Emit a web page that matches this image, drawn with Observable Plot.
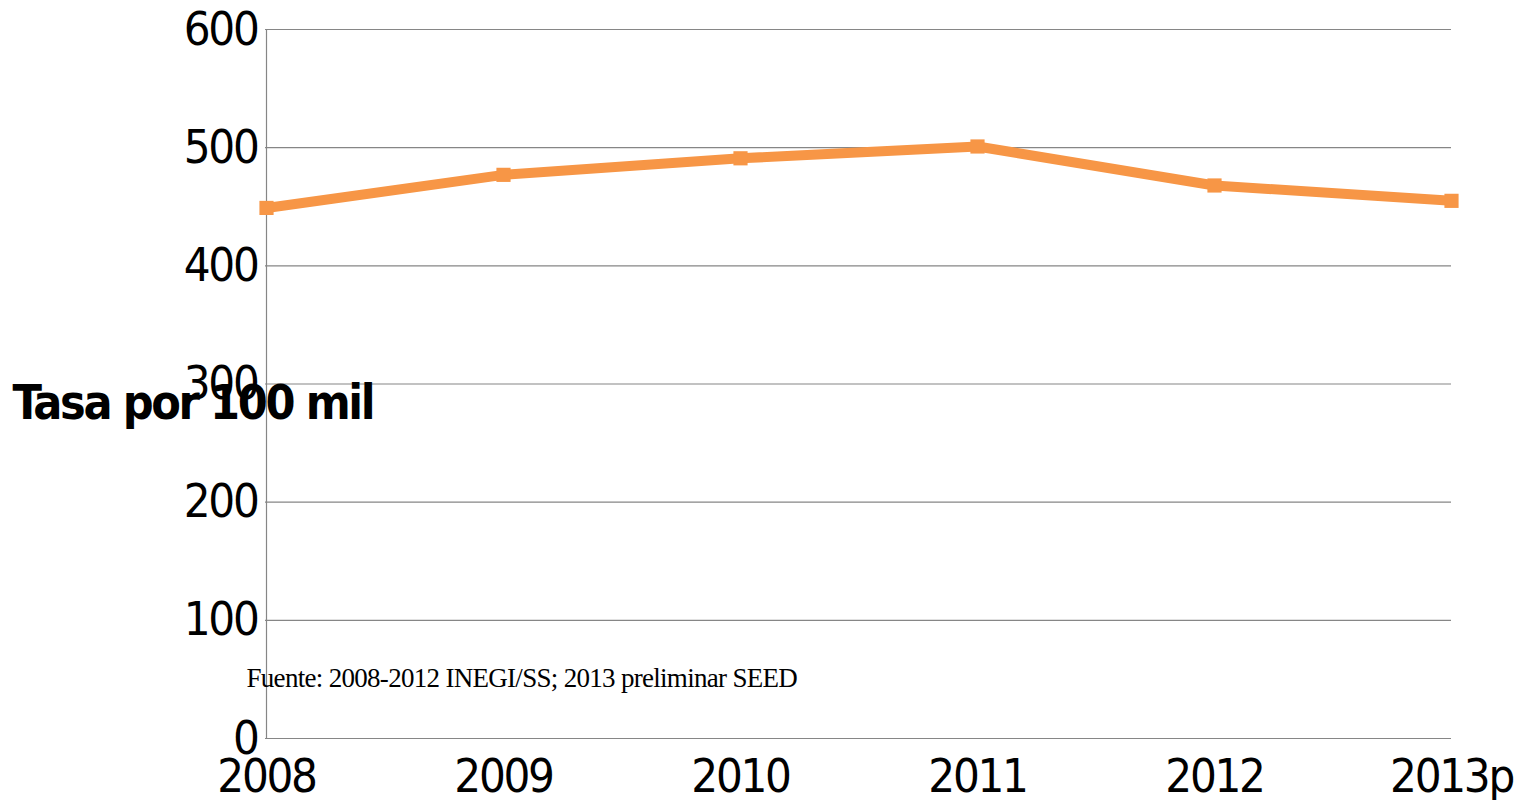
<!DOCTYPE html>
<html>
<head>
<meta charset="utf-8">
<script src="https://cdn.jsdelivr.net/npm/d3@7"></script>
<script src="https://cdn.jsdelivr.net/npm/@observablehq/plot@0.6"></script>
<style>
  html, body { margin: 0; padding: 0; background: #fff; }
  #chart { width: 1516px; height: 800px; }
</style>
</head>
<body>
<div id="chart"></div>
<script>
const years = ["2008", "2009", "2010", "2011", "2012", "2013p"];
const rates = [449, 477, 491, 501, 468, 455];
const yTicks = [0, 100, 200, 300, 400, 500, 600];
const yLabel = "Tasa por 100 mil";
const source = "Fuente: 2008-2012 INEGI/SS; 2013 preliminar SEED";

const data = years.map((year, i) => ({year, rate: rates[i]}));
const gridColor = "#868686";
const lineColor = "#F79646";

const chart = Plot.plot({
  width: 1516,
  height: 800,
  marginLeft: 265,
  marginRight: 65,
  marginTop: 29,
  marginBottom: 62,
  style: {background: "#fff", fontFamily: "'DejaVu Sans Condensed', 'DejaVu Sans', sans-serif", overflow: "visible", color: "#000"},
  x: {type: "point", domain: years, padding: 0, axis: null},
  y: {domain: [0, 600], axis: null},
  marks: [
    Plot.gridY(yTicks, {stroke: gridColor, strokeOpacity: 1, strokeWidth: 1.2}),
    Plot.ruleX([years[0]], {stroke: gridColor, strokeWidth: 1.2}),
    Plot.ruleY([0], {stroke: gridColor, strokeWidth: 1.2}),
    Plot.axisY({ticks: yTicks, tickSize: 0, tickPadding: 8, fontSize: 47, label: null, fill: "#000"}),
    Plot.axisX({tickSize: 0, tickPadding: 20, fontSize: 47, label: null, fill: "#000"}),
    Plot.line(data, {x: "year", y: "rate", stroke: lineColor, strokeWidth: 10, strokeLinejoin: "miter"}),
    Plot.dot(data, {x: "year", y: "rate", symbol: "square", r: 8, fill: lineColor, stroke: "none"}),
    Plot.text([source], {frameAnchor: "bottom-left", textAnchor: "start", dx: -19, dy: -52, fontSize: 27,
      fontFamily: "'Liberation Serif', serif", fill: "#000"}),
    Plot.text([yLabel], {frameAnchor: "left", textAnchor: "start", dx: -253, dy: 20, fontSize: 48,
      fontWeight: "bold", fill: "#000"})
  ]
});
document.getElementById("chart").appendChild(chart);
const tickTexts = new Set([...years, ...yTicks.map(String)]);
d3.select(chart).selectAll("text").each(function () {
  const t = this.textContent;
  if (tickTexts.has(t)) this.setAttribute("letter-spacing", "-2.3px");
  else if (t === yLabel) this.setAttribute("letter-spacing", "-2.4px");
  else if (t === source) this.setAttribute("letter-spacing", "-0.7px");
});
</script>
</body>
</html>
